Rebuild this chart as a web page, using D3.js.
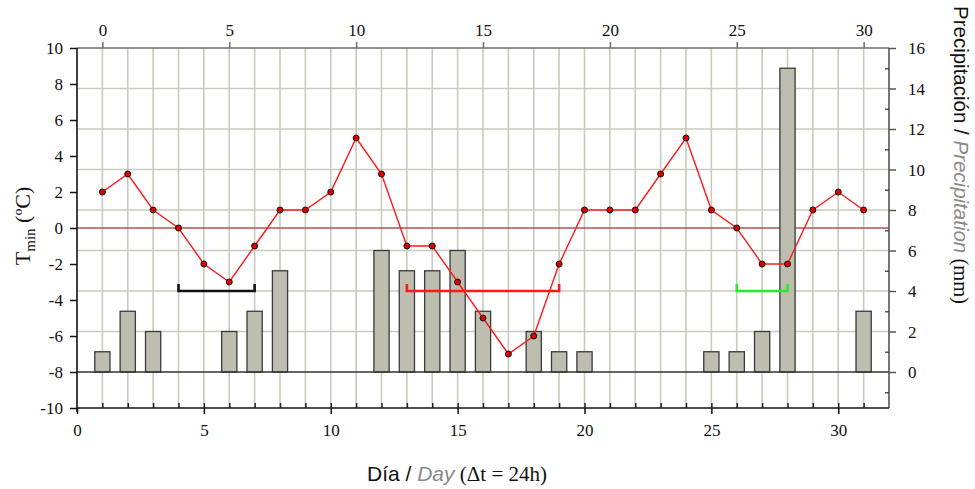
<!DOCTYPE html>
<html>
<head>
<meta charset="utf-8">
<script src="https://cdn.jsdelivr.net/npm/d3@7"></script>
<style>
  body { margin: 0; background: #fff; }
  svg { display: block; }
</style>
</head>
<body>
<svg id="chart" width="975" height="489"></svg>
<script>
// Daily data, day 1..31
const days = d3.range(1, 32);
const tmin = [2, 3, 1, 0, -2, -3, -1, 1, 1, 2, 5, 3, -1, -1, -3, -5, -7, -6, -2, 1,
              1, 1, 3, 5, 1, 0, -2, -2, 1, 2, 1];
const precip = [1, 3, 2, 0, 0, 2, 3, 5, 0, 0, 0, 6, 5, 5, 6, 3, 0, 2, 1, 1,
                0, 0, 0, 0, 1, 1, 2, 15, 0, 0, 3];
// brackets: [start day, end day, colour], drawn at 4 mm
const spells = [[4, 7, '#111'], [13, 19, '#ff1a1a'], [26, 28, '#22ee22']];
const SPELL_LEVEL = 4;

const bottomTicks = [0, 5, 10, 15, 20, 25, 30];
const topTicks = [0, 5, 10, 15, 20, 25, 30];
const leftTicks = d3.range(-10, 11, 2);
const rightTicks = d3.range(0, 17, 2);
const rightMinor = [-1, 1, 3, 5, 7, 9, 11, 13, 15];

const M = { left: 77, right: 889, top: 48, bottom: 408 };
const GRID = '#c9c9bd';
const SANS = 'Liberation Sans, Arial, sans-serif';
const SERIF = 'Liberation Serif, Times New Roman, serif';
const fmt = d => String(d);

const svg = d3.select('#chart');

const x = d3.scaleLinear().domain([0, 32]).range([M.left, M.right]);
const xTop = d3.scaleLinear().domain([-1, 31]).range([M.left, M.right]);
const yT = d3.scaleLinear().domain([-10, 10]).range([M.bottom, M.top]);
const yP = d3.scaleLinear().domain([0, 16]).range([yT(-8), yT(10)]);

// grid
const grid = svg.append('g');
grid.selectAll('.vg').data(days).join('line')
    .attr('x1', d => x(d)).attr('x2', d => x(d))
    .attr('y1', M.top).attr('y2', M.bottom)
    .attr('stroke', GRID).attr('stroke-width', 1.6);
grid.selectAll('.hg').data(rightTicks.filter(v => v > 0 && v < 16)).join('line')
    .attr('x1', M.left).attr('x2', M.right)
    .attr('y1', d => yP(d)).attr('y2', d => yP(d))
    .attr('stroke', GRID).attr('stroke-width', 1.6);

// zero temperature line
svg.append('line')
    .attr('x1', M.left).attr('x2', M.right)
    .attr('y1', yT(0)).attr('y2', yT(0))
    .attr('stroke', '#b05555').attr('stroke-width', 1.6);

// precipitation bars
const barW = x(0.6) - x(0);
svg.append('g').selectAll('rect')
    .data(days.map((d, i) => ({ day: d, v: precip[i] })).filter(d => d.v > 0))
    .join('rect')
    .attr('x', d => x(d.day) - barW / 2)
    .attr('width', barW)
    .attr('y', d => yP(d.v))
    .attr('height', d => yP(0) - yP(d.v))
    .attr('fill', '#bdbdb0')
    .attr('stroke', '#3a3a3a')
    .attr('stroke-width', 1.3);

// precipitation baseline
svg.append('line')
    .attr('x1', M.left).attr('x2', M.right)
    .attr('y1', yP(0)).attr('y2', yP(0))
    .attr('stroke', '#333').attr('stroke-width', 1.6);

// spell brackets
const spellG = svg.append('g');
spells.forEach(([a, b, c]) => {
    const yy = yP(SPELL_LEVEL);
    spellG.append('path')
        .attr('d', `M${x(a)},${yy - 7}V${yy}H${x(b)}V${yy - 7}`)
        .attr('fill', 'none')
        .attr('stroke', c)
        .attr('stroke-width', 2.6);
});

// temperature line
const pts = days.map((d, i) => [d, tmin[i]]);
svg.append('path')
    .datum(pts)
    .attr('fill', 'none')
    .attr('stroke', '#ff1a1a')
    .attr('stroke-width', 1.4)
    .attr('d', d3.line().x(d => x(d[0])).y(d => yT(d[1])));
svg.append('g').selectAll('circle').data(pts).join('circle')
    .attr('cx', d => x(d[0])).attr('cy', d => yT(d[1]))
    .attr('r', 3)
    .attr('fill', '#e00000')
    .attr('stroke', '#111')
    .attr('stroke-width', 1);

// axes
function styleAxis(g, color) {
    g.attr('font-family', null).attr('font-size', null);
    g.selectAll('.domain').remove();
    g.selectAll('line').attr('stroke', color).attr('stroke-width', 1.5);
    g.selectAll('text').attr('fill', '#111')
        .style('font-family', SERIF).style('font-size', '17px');
}

// top border + top axis
svg.append('line').attr('x1', M.left).attr('x2', M.right)
    .attr('y1', M.top).attr('y2', M.top).attr('stroke', '#6e6e6e').attr('stroke-width', 1.6);
svg.append('g').attr('transform', `translate(0,${M.top})`)
    .call(d3.axisTop(xTop).tickValues(topTicks).tickSize(6).tickPadding(6).tickFormat(fmt))
    .call(g => styleAxis(g, '#6e6e6e'));

// bottom axis
svg.append('line').attr('x1', M.left).attr('x2', M.right)
    .attr('y1', M.bottom).attr('y2', M.bottom).attr('stroke', '#111').attr('stroke-width', 1.6);
svg.append('g').attr('transform', `translate(0,${M.bottom})`)
    .call(d3.axisBottom(x).tickValues(d3.range(1, 32)).tickSize(-5).tickFormat(''))
    .call(g => styleAxis(g, '#222'));
svg.append('g').attr('transform', `translate(0,${M.bottom})`)
    .call(d3.axisBottom(x).tickValues(bottomTicks).tickSize(6).tickPadding(10).tickFormat(fmt))
    .call(g => styleAxis(g, '#111'));

// left axis
svg.append('line').attr('x1', M.left).attr('x2', M.left)
    .attr('y1', M.top).attr('y2', M.bottom + 4).attr('stroke', '#111').attr('stroke-width', 1.6);
svg.append('g').attr('transform', `translate(${M.left},0)`)
    .call(d3.axisLeft(yT).tickValues(leftTicks).tickSize(7).tickPadding(7).tickFormat(fmt))
    .call(g => styleAxis(g, '#111'))
    .call(g => g.selectAll('text').attr('dy', '0.34em'));

// right axis
svg.append('line').attr('x1', M.right).attr('x2', M.right)
    .attr('y1', M.top).attr('y2', M.bottom).attr('stroke', '#555').attr('stroke-width', 1.6);
svg.append('g').attr('transform', `translate(${M.right},0)`)
    .call(d3.axisRight(yP).tickValues(rightMinor).tickSize(-4).tickFormat(''))
    .call(g => styleAxis(g, '#555'));
svg.append('g').attr('transform', `translate(${M.right},0)`)
    .call(d3.axisRight(yP).tickValues(rightTicks).tickSize(7).tickPadding(12).tickFormat(fmt))
    .call(g => styleAxis(g, '#555'))
    .call(g => g.selectAll('text').attr('dy', '0.34em'));

// axis titles
const xt = svg.append('text')
    .attr('x', 457).attr('y', 481)
    .attr('text-anchor', 'middle')
    .style('font-size', '21px');
xt.append('tspan').style('font-family', SANS).attr('fill', '#111').text('Día / ');
xt.append('tspan').style('font-family', SANS).style('font-style', 'italic').attr('fill', '#8a8a8a').text('Day');
xt.append('tspan').style('font-family', SERIF).attr('fill', '#111').text(' (Δt = 24h)');

const yl = svg.append('text')
    .attr('transform', 'translate(30,226) rotate(-90)')
    .attr('text-anchor', 'middle')
    .style('font-family', SERIF)
    .style('font-size', '22px')
    .attr('fill', '#111');
yl.append('tspan').text('T');
yl.append('tspan').style('font-size', '15px').attr('dy', 5).text('min');
yl.append('tspan').attr('dy', -5).text(' (ºC)');

const yr = svg.append('text')
    .attr('transform', 'translate(954,6) rotate(90)')
    .attr('text-anchor', 'start')
    .style('font-size', '20.5px');
yr.append('tspan').style('font-family', SANS).attr('fill', '#111').text('Precipitación / ');
yr.append('tspan').style('font-family', SANS).style('font-style', 'italic').attr('fill', '#8a8a8a').text('Precipitation');
yr.append('tspan').style('font-family', SERIF).attr('fill', '#111').text(' (mm)');
</script>
</body>
</html>
